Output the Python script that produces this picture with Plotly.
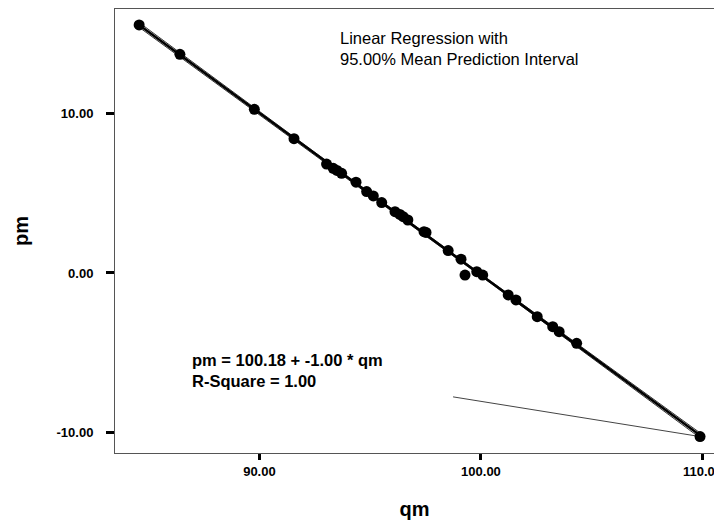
import numpy as np
import plotly.graph_objects as go

qm = [84.57, 86.41, 89.77, 91.56, 93.03, 93.33, 93.50, 93.71, 94.36, 94.84, 95.14,
      95.52, 96.12, 96.34, 96.49, 96.70, 97.43, 97.52, 98.52, 99.10, 99.28, 99.81,
      100.08, 101.23, 101.58, 102.54, 103.24, 103.53, 104.32, 109.89]
pm = [15.55, 13.71, 10.26, 8.42, 6.83, 6.56, 6.43, 6.25, 5.69, 5.10, 4.83,
      4.41, 3.84, 3.67, 3.53, 3.32, 2.59, 2.54, 1.40, 0.86, -0.13, 0.08,
      -0.13, -1.38, -1.69, -2.74, -3.37, -3.68, -4.41, -10.26]

# Stray interval segment visible near lower right
stray_qm = [98.74, 109.89]
stray_pm = [-7.77, -10.26]

x_ticks = [90, 100, 110]
y_ticks = [-10, 0, 10]

qa = np.array(qm)
pa = np.array(pm)
slope, intercept = np.polyfit(qa, pa, 1)
xs = np.linspace(qa.min(), qa.max(), 200)
fit = intercept + slope * xs
n = len(qa)
resid = pa - (intercept + slope * qa)
s = np.sqrt(np.sum(resid ** 2) / (n - 2))
sxx = np.sum((qa - qa.mean()) ** 2)
se = s * np.sqrt(1 / n + (xs - qa.mean()) ** 2 / sxx)
t = 2.048
lo = fit - t * se
hi = fit + t * se

fig = go.Figure()
fig.add_trace(go.Scatter(x=xs, y=lo, mode="lines", line=dict(color="#333", width=1), hoverinfo="skip"))
fig.add_trace(go.Scatter(x=xs, y=hi, mode="lines", line=dict(color="#333", width=1), hoverinfo="skip"))
fig.add_trace(go.Scatter(x=xs, y=fit, mode="lines", line=dict(color="black", width=2.5)))
fig.add_trace(go.Scatter(x=stray_qm, y=stray_pm, mode="lines", line=dict(color="#444", width=1)))
fig.add_trace(go.Scatter(x=qm, y=pm, mode="markers", marker=dict(color="black", size=11)))

font = "Arial, Liberation Sans, sans-serif"
fig.update_layout(
    width=714, height=524,
    margin=dict(l=115, r=0, t=9, b=71),
    paper_bgcolor="white", plot_bgcolor="white",
    showlegend=False,
    font=dict(family=font, color="black"),
    xaxis=dict(range=[83.48, 110.52], tickvals=x_ticks, ticktext=[f"{v:.2f}" for v in x_ticks],
               showgrid=False, zeroline=False, showline=True, linecolor="#555", linewidth=1,
               mirror=True, ticks="outside", ticklen=6, tickwidth=3, tickcolor="black",
               ticklabeloverflow="allow", automargin=False,
               tickfont=dict(size=13, family=font, weight="bold"),
               title=dict(text="<b>qm</b>", font=dict(size=20), standoff=24)),
    yaxis=dict(range=[-11.29, 16.55], tickvals=y_ticks, ticktext=[f"{v:.2f}" for v in y_ticks],
               showgrid=False, zeroline=False, showline=True, linecolor="#555", linewidth=1,
               ticks="outside", ticklen=8, tickwidth=3, tickcolor="black",
               ticklabelstandoff=10, automargin=False,
               tickfont=dict(size=13, family=font, weight="bold"),
               title=dict(text="<b>pm</b>", font=dict(size=20), standoff=22)),
)
fig.add_annotation(xref="paper", yref="paper", x=(338 - 115) / 599, y=(453 - 27) / 444,
                   xanchor="left", yanchor="top", align="left", showarrow=False,
                   text="Linear Regression with<br>95.00% Mean Prediction Interval",
                   font=dict(size=16.5, family=font))
fig.add_annotation(xref="paper", yref="paper", x=(190 - 115) / 599, y=(453 - 349) / 444,
                   xanchor="left", yanchor="top", align="left", showarrow=False,
                   text="<b>pm = 100.18 + -1.00 * qm<br>R-Square = 1.00</b>",
                   font=dict(size=16.5, family=font))
fig.write_html("out.html")
